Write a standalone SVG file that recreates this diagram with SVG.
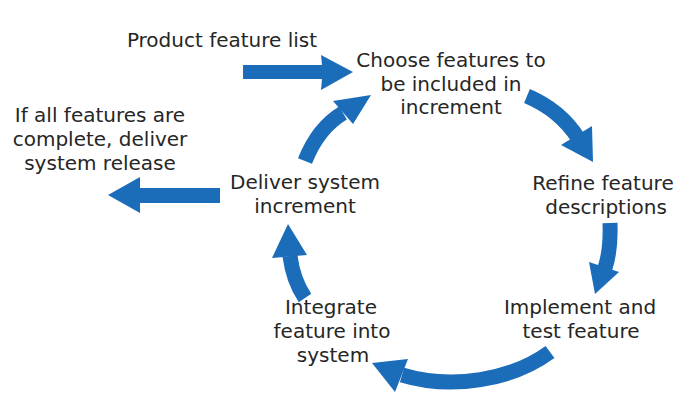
<svg xmlns="http://www.w3.org/2000/svg" width="697" height="409" viewBox="0 0 697 409">
<style>
text{font-family:"DejaVu Sans","Verdana",sans-serif;font-size:20px;fill:#262626;text-anchor:middle}
.sh{fill:none;stroke:#1b6dba;stroke-width:15;stroke-linecap:butt}
.hd{fill:#1b6dba;stroke:none}
</style>
<rect width="697" height="409" fill="#ffffff"/>
<g id="connectors">
<path class="hd" d="M243,65 L322,65 L321,55 L353,72 L321,90 L322,79 L243,79 Z"/>
<path class="hd" d="M220,188 L140,188 L140,177 L108,195 L140,213 L140,203 L220,203 Z"/>
<path class="sh" d="M527,96 Q560,110 578,138"/>
<path class="hd" d="M561,145 L592,126 L593,162 Z"/>
<path class="sh" d="M610,223 Q611,250 605,268"/>
<path class="hd" d="M589,262 L619,272 L595,294 Z"/>
<path class="sh" d="M550,352 C512,380 452,390 402,375"/>
<path class="hd" d="M408,359 L395,392 L372,363 Z"/>
<path class="sh" d="M305,298 Q293,280 290,256"/>
<path class="hd" d="M272,258 L307,255 L288,224 Z"/>
<path class="sh" d="M305,161 Q318,128 343,113"/>
<path class="hd" d="M333,101 L353,124 L371,95 Z"/>
</g>
<g id="node-product-list"><text x="222" y="47">Product feature list</text></g>
<g id="node-choose"><text x="451" y="67">Choose features to</text><text x="451" y="91">be included in</text><text x="451" y="114">increment</text></g>
<g id="node-refine"><text x="603" y="190">Refine feature</text><text x="606" y="214">descriptions</text></g>
<g id="node-implement"><text x="580" y="314">Implement and</text><text x="581" y="338">test feature</text></g>
<g id="node-integrate"><text x="331" y="314">Integrate</text><text x="332" y="338">feature into</text><text x="333" y="362">system</text></g>
<g id="node-deliver"><text x="305" y="189">Deliver system</text><text x="305" y="213">increment</text></g>
<g id="node-release"><text x="100" y="122">If all features are</text><text x="100" y="146">complete, deliver</text><text x="100" y="170">system release</text></g>
</svg>
